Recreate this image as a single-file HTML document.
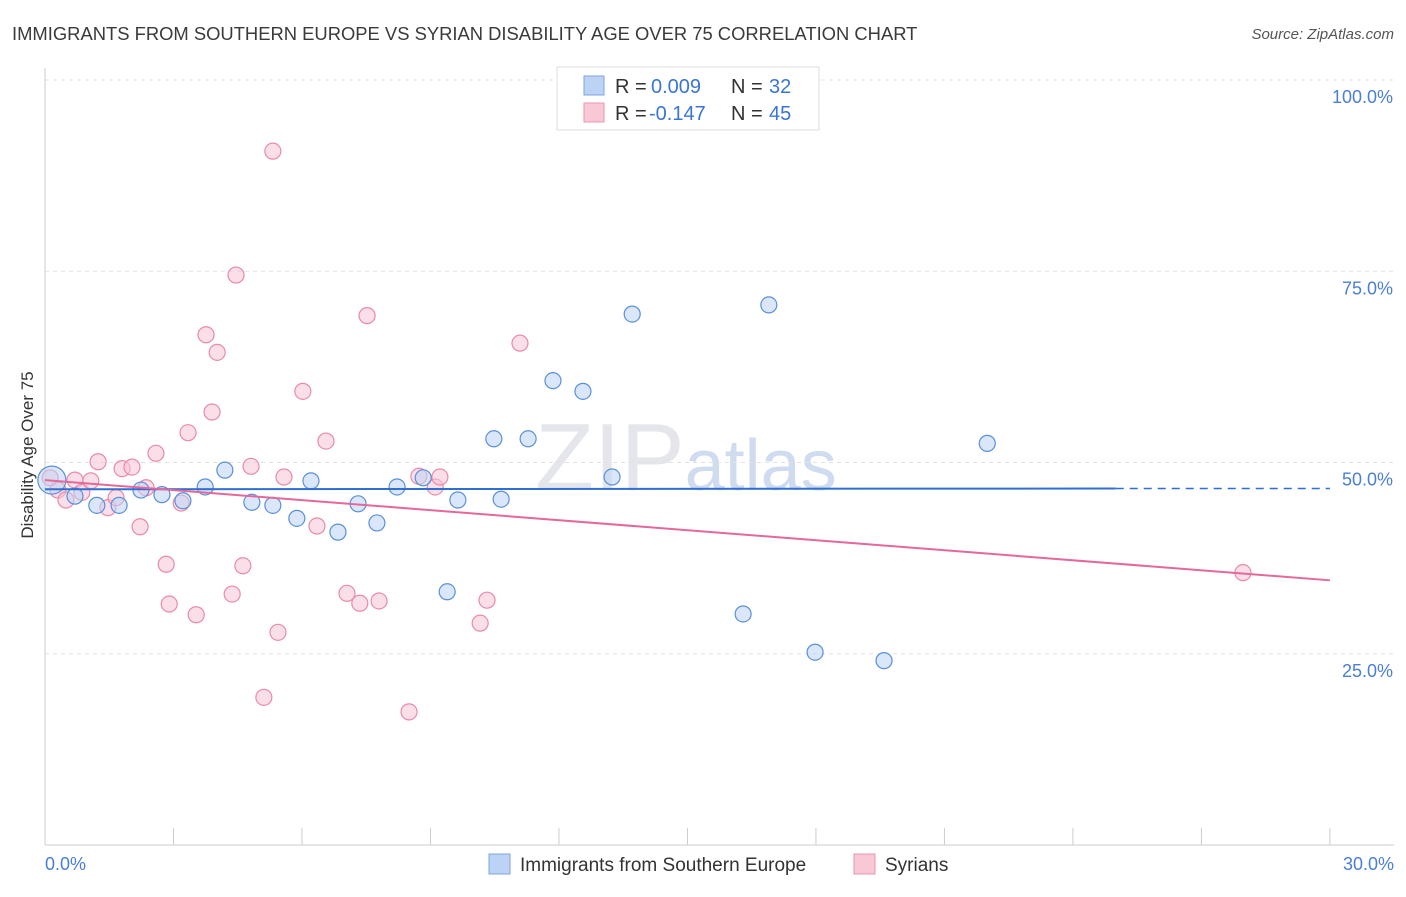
<!DOCTYPE html>
<html><head><meta charset="utf-8"><style>
body{margin:0;background:#fff;font-family:"Liberation Sans",sans-serif;}
svg text{font-family:"Liberation Sans",sans-serif;}
</style></head><body>
<svg id="c" width="1406" height="892">
<text x="12" y="40" font-size="18.4" fill="#3a3a3a">IMMIGRANTS FROM SOUTHERN EUROPE VS SYRIAN DISABILITY AGE OVER 75 CORRELATION CHART</text>
<text x="1394" y="39" font-size="15" fill="#555" font-style="italic" text-anchor="end">Source: ZipAtlas.com</text>
<text x="686" y="490" font-size="96" fill="#e4e6ec" text-anchor="middle" font-family="Liberation Serif">ZIP<tspan fill="#cfdcf0" font-family="Liberation Sans" font-size="72">atlas</tspan></text>
<g id="grid"></g><g id="pts"></g>
<text transform="translate(33,455) rotate(-90)" font-size="17" fill="#333" text-anchor="middle">Disability Age Over 75</text>
<text x="45" y="870" font-size="18" fill="#4a7fd6">0.0%</text>
<text x="1394" y="870" font-size="18" fill="#4a7fd6" text-anchor="end">30.0%</text>
<g>
<rect x="557" y="67" width="262" height="63" fill="#fff" stroke="#ddd"/>
<rect x="584" y="76" width="20" height="19" fill="#bcd3f5" stroke="#7ea6e0"/>
<rect x="584" y="103" width="20" height="19" fill="#f9c8d7" stroke="#eb94b1"/>
<text x="615" y="93" font-size="20" fill="#333">R =</text>
<text x="651" y="93" font-size="20" fill="#3a75d6">0.009</text>
<text x="731" y="93" font-size="20" fill="#333">N =</text>
<text x="769" y="93" font-size="20" fill="#3a75d6">32</text>
<text x="615" y="120" font-size="20" fill="#333">R =</text>
<text x="649" y="120" font-size="20" fill="#3a75d6">-0.147</text>
<text x="731" y="120" font-size="20" fill="#333">N =</text>
<text x="769" y="120" font-size="20" fill="#3a75d6">45</text>
</g>
<g>
<rect x="489" y="854" width="21" height="20" fill="#bcd3f5" stroke="#7ea6e0"/>
<text x="520" y="871" font-size="19" fill="#333">Immigrants from Southern Europe</text>
<rect x="854" y="854" width="21" height="20" fill="#f9c8d7" stroke="#eb94b1"/>
<text x="885" y="871" font-size="19" fill="#333">Syrians</text>
</g>
</svg>
<script>
const yTicks=[25,50,75,100];
const yTickLabels=["25.0%","50.0%","75.0%","100.0%"];
const xTicks=[0,3,6,9,12,15,18,21,24,27,30];
const blueX=[0.16,0.70,1.21,1.73,2.24,2.73,3.22,3.74,4.20,4.83,5.32,5.88,6.21,6.84,7.31,7.75,8.22,8.83,9.64,10.48,10.65,11.28,11.86,12.56,13.24,13.71,16.30,16.90,17.98,19.59,22.0,9.39];
const blueY=[47.7,45.6,44.4,44.4,46.4,45.8,45.0,46.8,49.0,44.8,44.4,42.7,47.6,40.9,44.6,42.1,46.8,48.0,45.1,53.1,45.2,53.1,60.7,59.3,48.1,69.4,30.2,70.6,25.2,24.1,52.5,33.1];
const pinkX=[0.12,0.30,0.49,0.70,0.86,1.07,1.24,1.47,1.66,1.80,2.03,2.22,2.36,2.59,2.83,2.90,3.18,3.34,3.53,3.76,3.90,4.02,4.37,4.46,4.62,4.81,5.11,5.32,5.44,5.58,6.02,6.35,6.56,7.05,7.35,7.52,7.80,8.50,8.73,9.11,9.22,10.16,10.32,11.09,27.97];
const pinkY=[48.0,46.4,45.1,47.7,46.1,47.6,50.1,44.1,45.4,49.2,49.4,41.6,46.7,51.2,36.7,31.5,44.7,53.9,30.1,66.7,56.6,64.4,32.8,74.5,36.5,49.5,19.3,90.7,27.8,48.1,59.3,41.7,52.8,32.9,31.6,69.2,31.9,17.4,48.2,46.8,48.1,29.0,32.0,65.6,35.6];
const blueTrendX=[0,25,30];const blueTrendY=[46.5,46.6,46.6];
const pinkTrendX=[0,30];const pinkTrendY=[47.7,34.6];
const sx=v=>45+v*42.83, sy=v=>845-v*7.65;
const NS="http://www.w3.org/2000/svg";
function mk(t,a,p){const e=document.createElementNS(NS,t);for(const k in a)e.setAttribute(k,a[k]);p.appendChild(e);return e;}
const gridG=document.getElementById('grid'), ptsG=document.getElementById('pts');
yTicks.forEach((v,i)=>{
 const l=mk('line',{x1:45,x2:1394,y1:sy(v),y2:sy(v),stroke:'#e2e2e2','stroke-dasharray':'4,4'},gridG);
 
 
 const t=mk('text',{x:1393,y:sy(v)+23,'font-size':18,fill:'#4a7fd6','text-anchor':'end'},gridG);
 t.textContent=yTickLabels[i];
 
 
});
const ya=mk('line',{x1:45,x2:45,y1:68,y2:845,stroke:'#ccc'},gridG);


const xa=mk('line',{x1:45,x2:1394,y1:845,y2:845,stroke:'#ccc'},gridG);


xTicks.forEach(v=>{const t=mk('line',{x1:sx(v),x2:sx(v),y1:828,y2:845,stroke:'#ccc'},gridG);
 
 });
function dots(X,Y,f,s,name){X.forEach((x,i)=>{const r=(i===0&&name==='blue-point')?14:8;
 const c=mk('circle',{cx:sx(x),cy:sy(Y[i]),r:r,fill:f,'fill-opacity':0.55,stroke:s,'stroke-width':1.2},ptsG);
 
 });}
dots(pinkX,pinkY,'#f8c5d5','#e98aab','pink-point');
dots(blueX,blueY,'#bcd3f5','#5b8fd9','blue-point');
const bt=mk('line',{x1:sx(blueTrendX[0]),y1:sy(blueTrendY[0]),x2:sx(blueTrendX[1]),y2:sy(blueTrendY[1]),stroke:'#2f6fd1','stroke-width':2},ptsG);


const bd=mk('line',{x1:sx(blueTrendX[1]),y1:sy(blueTrendY[1]),x2:sx(blueTrendX[2]),y2:sy(blueTrendY[2]),stroke:'#2f6fd1','stroke-width':1.5,'stroke-dasharray':'8,6'},ptsG);


const pt=mk('line',{x1:sx(pinkTrendX[0]),y1:sy(pinkTrendY[0]),x2:sx(pinkTrendX[1]),y2:sy(pinkTrendY[1]),stroke:'#e5689a','stroke-width':2},ptsG);


</script>
</body></html>
